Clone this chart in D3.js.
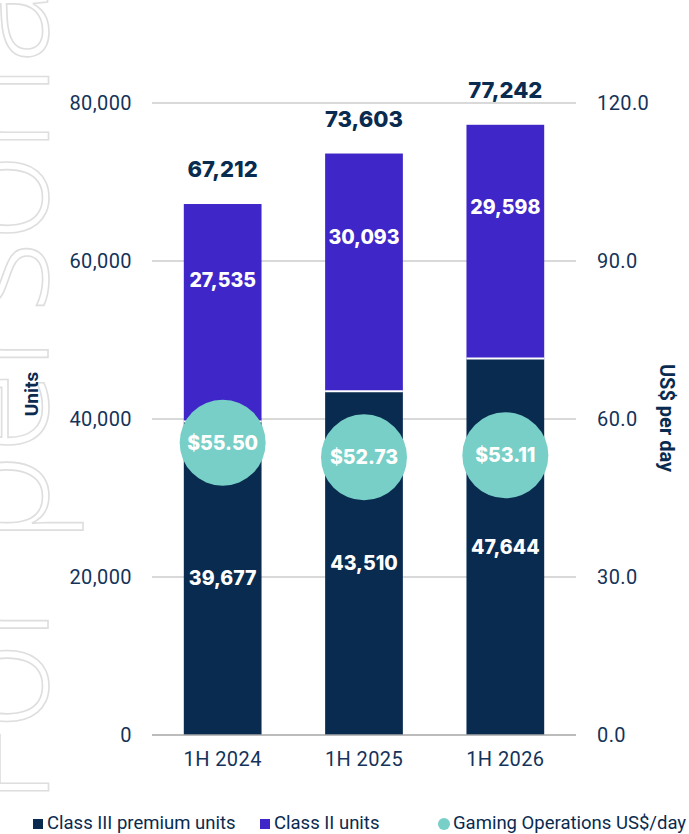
<!DOCTYPE html>
<html>
<head>
<meta charset="utf-8">
<script src="https://cdn.jsdelivr.net/npm/d3@7"></script>
<style>
  html, body { margin: 0; padding: 0; background: #ffffff; }
  svg { display: block; }
</style>
</head>
<body>
<div id="chart"></div>
<script>
/* CHART DATA */
var periods = ['1H 2024', '1H 2025', '1H 2026'];
var classIII = [39677, 43510, 47644];
var classII = [27535, 30093, 29598];
var totals = [67212, 73603, 77242];
var dailyWin = [55.50, 52.73, 53.11];
var unitTicks = [0, 20000, 40000, 60000, 80000];
var dollarTicks = [0, 30, 60, 90, 120];
var legendLabels = ['Class III premium units', 'Class II units', 'Gaming Operations US$/day'];

/* COLOURS */
const navy = '#092b4f';
const purple = '#3f26c8';
const teal = '#77cfc7';
const textCol = '#14335a';

var width = 689, height = 834;

var svg = d3.select('#chart').append('svg')
  .attr('width', width)
  .attr('height', height);

/* WATERMARK ON THE LEFT EDGE */
svg.append('text')
  .attr('transform', 'translate(48,806) rotate(-90)')
  .style('font-family', '"Open Sans", sans-serif')
  .style('font-weight', 300)
  .style('font-size', '151px')
  .attr('fill', 'none')
  .attr('stroke', '#dedede')
  .attr('stroke-width', 1.6)
  .text('For personal use only');

/* SCALES */
var x = d3.scaleBand()
  .domain(periods)
  .range([152, 576])
  .paddingInner(0.45)
  .paddingOuter(0.225);

var yUnits = d3.scaleLinear().domain([0, 80000]).range([735, 103]);
var yDollars = d3.scaleLinear().domain([0, 120]).range([735, 103]);

/* GRIDLINES */
svg.append('g').selectAll('line')
  .data(unitTicks.filter(function(d){ return d > 0; }))
  .enter().append('line')
  .attr('x1', 152).attr('x2', 576)
  .attr('y1', function(d){ return yUnits(d); })
  .attr('y2', function(d){ return yUnits(d); })
  .attr('stroke', '#d9d9d9')
  .attr('stroke-width', 2);

var tickStyle = function(sel){
  sel.style('font-family', 'Roboto, sans-serif')
    .style('font-size', '20px')
    .style('letter-spacing', '0.4px')
    .attr('fill', textCol);
};

/* LEFT AXIS */
var leftAxis = svg.append('g')
  .attr('transform', 'translate(152,0)')
  .call(d3.axisLeft(yUnits).tickValues(unitTicks).tickSize(0).tickPadding(20)
    .tickFormat(d3.format(',')));
leftAxis.select('.domain').remove();
leftAxis.selectAll('text').call(tickStyle);

/* RIGHT AXIS */
var rightAxis = svg.append('g')
  .attr('transform', 'translate(576,0)')
  .call(d3.axisRight(yDollars).tickValues(dollarTicks).tickSize(0).tickPadding(21)
    .tickFormat(d3.format('.1f')));
rightAxis.select('.domain').remove();
rightAxis.selectAll('text').call(tickStyle);

/* BARS */
var groups = svg.append('g').selectAll('g')
  .data(periods).enter().append('g');

groups.append('rect')
  .attr('x', function(d){ return x(d); })
  .attr('width', x.bandwidth())
  .attr('y', function(d, i){ return yUnits(classIII[i]); })
  .attr('height', function(d, i){ return yUnits(0) - yUnits(classIII[i]); })
  .attr('fill', navy);

groups.append('rect')
  .attr('x', function(d){ return x(d); })
  .attr('width', x.bandwidth())
  .attr('y', function(d, i){ return yUnits(classIII[i] + classII[i]); })
  .attr('height', function(d, i){ return yUnits(classIII[i]) - yUnits(classIII[i] + classII[i]); })
  .attr('fill', purple);

/* WHITE SEPARATOR BETWEEN SEGMENTS */
groups.append('line')
  .attr('x1', function(d){ return x(d); })
  .attr('x2', function(d){ return x(d) + x.bandwidth(); })
  .attr('y1', function(d, i){ return yUnits(classIII[i]); })
  .attr('y2', function(d, i){ return yUnits(classIII[i]); })
  .attr('stroke', '#ffffff')
  .attr('stroke-width', 2);

/* BASELINE */
svg.append('line')
  .attr('x1', 152).attr('x2', 576)
  .attr('y1', yUnits(0)).attr('y2', yUnits(0))
  .attr('stroke', '#a6a6a6')
  .attr('stroke-width', 1.5);

/* X AXIS LABELS */
var xAxis = svg.append('g')
  .attr('transform', 'translate(0,' + yUnits(0) + ')')
  .call(d3.axisBottom(x).tickSize(0).tickPadding(17));
xAxis.select('.domain').remove();
xAxis.selectAll('text').call(tickStyle);

var boldFont = 'Inter, "Open Sans", sans-serif';

/* SEGMENT LABELS */
groups.append('text')
  .attr('x', function(d){ return x(d) + x.bandwidth() / 2; })
  .attr('y', function(d, i){ return (yUnits(0) + yUnits(classIII[i])) / 2; })
  .attr('text-anchor', 'middle')
  .attr('dominant-baseline', 'central')
  .style('font-family', boldFont)
  .style('font-weight', 800)
  .style('font-size', '19.5px')
  .attr('fill', '#ffffff')
  .text(function(d, i){ return d3.format(',')(classIII[i]); });

groups.append('text')
  .attr('x', function(d){ return x(d) + x.bandwidth() / 2; })
  .attr('y', function(d, i){
    var top = yUnits(classIII[i] + classII[i]);
    return top + 0.35 * (yUnits(classIII[i]) - top);
  })
  .attr('text-anchor', 'middle')
  .attr('dominant-baseline', 'central')
  .style('font-family', boldFont)
  .style('font-weight', 800)
  .style('font-size', '19.5px')
  .attr('fill', '#ffffff')
  .text(function(d, i){ return d3.format(',')(classII[i]); });

/* TOTAL LABELS */
groups.append('text')
  .attr('x', function(d){ return x(d) + x.bandwidth() / 2; })
  .attr('y', function(d, i){ return yUnits(totals[i]) - 35; })
  .attr('text-anchor', 'middle')
  .attr('dominant-baseline', 'central')
  .style('font-family', boldFont)
  .style('font-weight', 800)
  .style('font-size', '22px')
  .attr('fill', navy)
  .text(function(d, i){ return d3.format(',')(totals[i]); });

/* US$ PER DAY CIRCLES */
groups.append('circle')
  .attr('cx', function(d){ return x(d) + x.bandwidth() / 2; })
  .attr('cy', function(d, i){ return yDollars(dailyWin[i]); })
  .attr('r', 43)
  .attr('fill', teal);

groups.append('text')
  .attr('x', function(d){ return x(d) + x.bandwidth() / 2; })
  .attr('y', function(d, i){ return yDollars(dailyWin[i]); })
  .attr('text-anchor', 'middle')
  .attr('dominant-baseline', 'central')
  .style('font-family', boldFont)
  .style('font-weight', 800)
  .style('font-size', '19.5px')
  .attr('fill', '#ffffff')
  .text(function(d, i){ return '$' + d3.format('.2f')(dailyWin[i]); });

/* AXIS TITLES */
svg.append('text')
  .attr('transform', 'translate(31,394) rotate(-90)')
  .attr('text-anchor', 'middle')
  .attr('dominant-baseline', 'central')
  .style('font-family', 'Roboto, sans-serif')
  .style('font-weight', 700)
  .style('font-size', '19px')
  .attr('fill', navy)
  .text('Units');

svg.append('text')
  .attr('transform', 'translate(667,418) rotate(90)')
  .attr('text-anchor', 'middle')
  .attr('dominant-baseline', 'central')
  .style('font-family', 'Roboto, sans-serif')
  .style('font-weight', 700)
  .style('font-size', '20px')
  .attr('fill', navy)
  .text('US$ per day');

/* LEGEND */
var legendX = [33, 260, 438];
var legend = svg.append('g').selectAll('g')
  .data(legendLabels).enter().append('g')
  .attr('transform', function(d, i){ return 'translate(' + legendX[i] + ',823)'; });

legend.filter(function(d, i){ return i < 2; }).append('rect')
  .attr('x', 0).attr('y', -4)
  .attr('width', 10).attr('height', 10)
  .attr('fill', function(d, i){ return i === 0 ? navy : purple; });

legend.filter(function(d, i){ return i === 2; }).append('circle')
  .attr('cx', 6).attr('cy', 1).attr('r', 6)
  .attr('fill', teal);

legend.append('text')
  .attr('x', function(d, i){ return i === 2 ? 15 : 14; })
  .attr('y', 0)
  .attr('dominant-baseline', 'central')
  .style('font-family', 'Roboto, sans-serif')
  .style('font-size', '18.5px')
  .attr('fill', navy)
  .text(function(d){ return d; });
</script>
</body>
</html>
